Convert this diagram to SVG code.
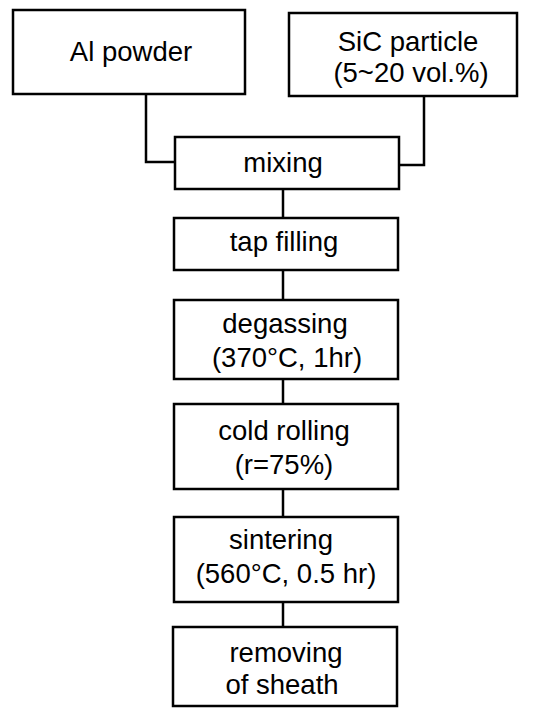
<svg xmlns="http://www.w3.org/2000/svg" width="540" height="709" viewBox="0 0 540 709">
<style>
rect{fill:#fff;stroke:#000;stroke-width:2.5}
.c path{fill:none;stroke:#000;stroke-width:2.5}
text{font-family:"Liberation Sans",Arial,sans-serif;font-size:27.5px;fill:#000;text-anchor:middle}
</style>
<rect x="0" y="0" width="540" height="709" style="stroke:none"/>
<g class="c" id="connectors">
<path d="M146 94V162H175"/>
<path d="M424 96V165H399"/>
<path d="M283 189V218"/>
<path d="M283 270V300"/>
<path d="M283 379V404"/>
<path d="M283 489V517"/>
<path d="M283 602V627"/>
</g>
<g id="al"><rect x="13" y="10" width="232" height="84"/><text x="131" y="61">Al powder</text></g>
<g id="sic"><rect x="289" y="13" width="228" height="83"/><text x="408" y="51">SiC particle</text><text x="411" y="82">(5~20 vol.%)</text></g>
<g id="mixing"><rect x="175" y="137" width="224" height="52"/><text x="283" y="172">mixing</text></g>
<g id="tap"><rect x="174" y="218" width="224" height="52"/><text x="284" y="251">tap filling</text></g>
<g id="degas"><rect x="174" y="300" width="224" height="79"/><text x="285" y="333">degassing</text><text x="287" y="367">(370°C, 1hr)</text></g>
<g id="cold"><rect x="174" y="404" width="224" height="85"/><text x="284" y="440">cold rolling</text><text x="284" y="474">(r=75%)</text></g>
<g id="sinter"><rect x="174" y="517" width="224" height="85"/><text x="281" y="549">sintering</text><text x="286" y="583">(560°C, 0.5 hr)</text></g>
<g id="remove"><rect x="173" y="627" width="224" height="79"/><text x="286" y="662">removing</text><text x="282" y="694">of sheath</text></g>
</svg>
